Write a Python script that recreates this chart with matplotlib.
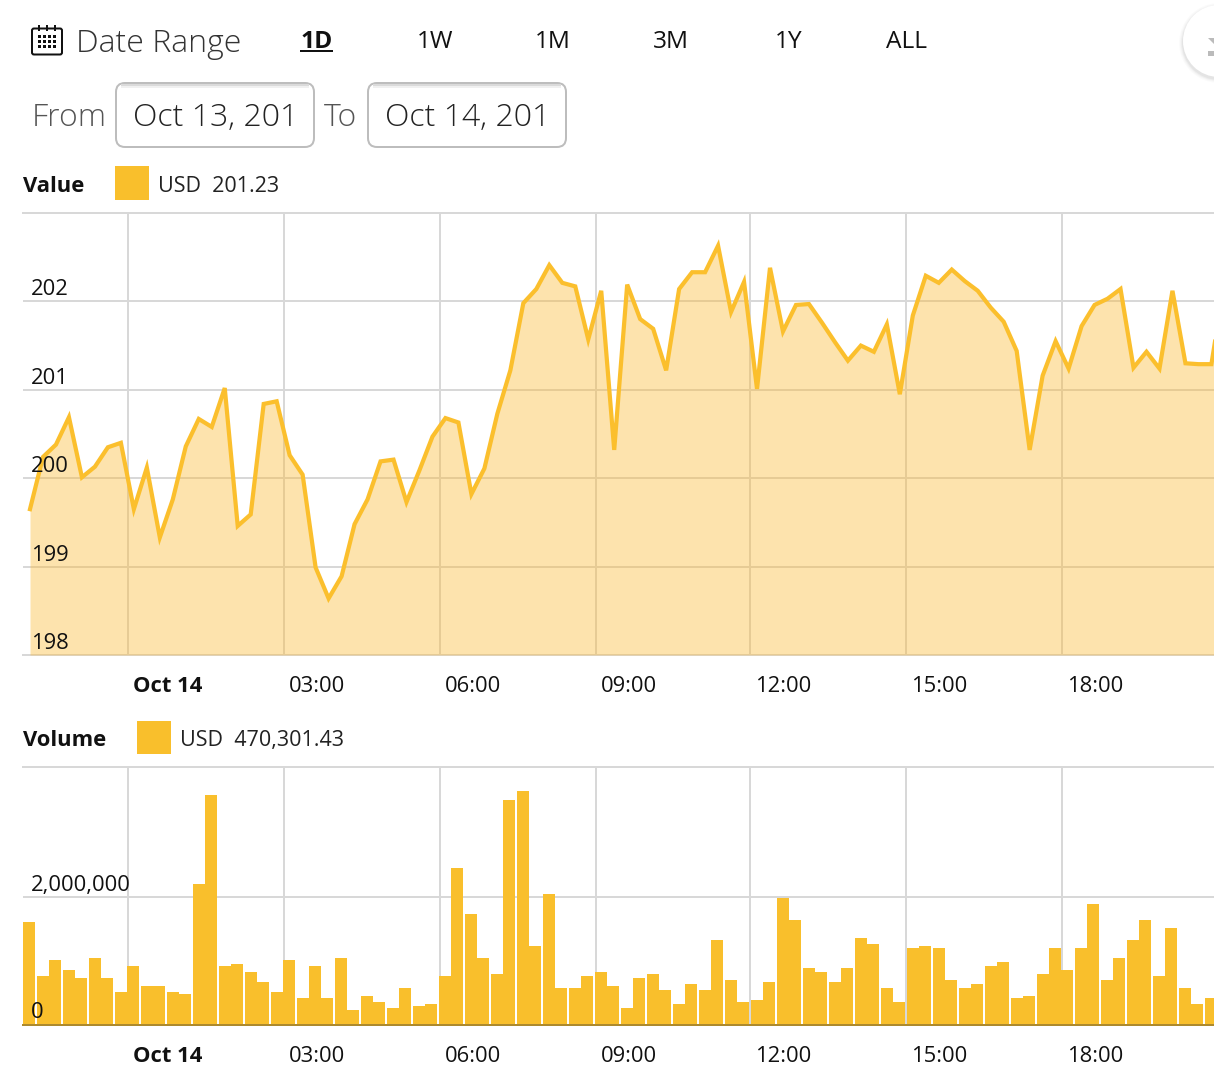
import numpy as np
import matplotlib
matplotlib.use("Agg")
import matplotlib.pyplot as plt
from matplotlib.patches import Rectangle, FancyBboxPatch, Circle, Polygon

plt.rcParams['font.family'] = ['Open Sans', 'DejaVu Sans']

W, H = 1214, 1069
PX = 0.72  # one pixel in points at dpi 100

value_usd = [199.65, 200.24, 200.38, 200.69, 200.01, 200.13, 200.35, 200.40, 199.65, 200.12,
             199.33, 199.76, 200.36, 200.67, 200.58, 201.02, 199.46, 199.59, 200.84, 200.87,
             200.26, 200.04, 198.99, 198.64, 198.89, 199.48, 199.76, 200.19, 200.21, 199.73,
             200.09, 200.47, 200.68, 200.63, 199.82, 200.11, 200.73, 201.22, 201.98, 202.14,
             202.41, 202.21, 202.17, 201.57, 202.12, 200.32, 202.19, 201.80, 201.69, 201.22,
             202.14, 202.33, 202.33, 202.63, 201.88, 202.22, 201.01, 202.38, 201.66, 201.96,
             201.97, 201.76, 201.54, 201.33, 201.50, 201.43, 201.74, 200.95, 201.84, 202.29,
             202.21, 202.36, 202.23, 202.12, 201.93, 201.77, 201.44, 200.32, 201.16, 201.55,
             201.24, 201.72, 201.96, 202.03, 202.14, 201.25, 201.43, 201.24, 202.12, 201.30,
             201.29, 201.29, 202.21]

volume_k = [1605, 764, 1013, 857, 732, 1044, 732, 514, 920, 608,
            608, 514, 483, 2197, 3600, 920, 951, 826, 670, 514,
            1013, 421, 920, 421, 1044, 234, 452, 358, 265, 577,
            296, 327, 764, 2447, 1730, 1044, 795, 3507, 3662, 1231,
            2042, 577, 577, 764, 826, 608, 265, 732, 795, 545,
            327, 639, 545, 1325, 701, 358, 390, 670, 1979, 1636,
            888, 826, 670, 888, 1356, 1262, 577, 358, 1200, 1231,
            1200, 701, 577, 639, 920, 982, 421, 452, 795, 1200,
            857, 1200, 1886, 701, 1044, 1325, 1636, 764, 1512, 577,
            327, 421]

# the page's tick spacing is not quite even, hence the odd hours
tick_hours = [0, 3.004, 6.008, 9.012, 11.978, 14.982, 17.986]
tick_labels = ['Oct 14', '03:00', '06:00', '09:00', '12:00', '15:00', '18:00']
value_ticks = [198, 199, 200, 201, 202]
volume_ticks = [0, 2000000]
volume_tick_labels = ['0', '2,000,000']
periods = ['1W', '1M', '3M', '1Y', 'ALL']
period_x = [435, 552.5, 670.5, 789, 906.5]

AMBER = '#F9BF2C'
GRID = '#D8D8D8'
ZERO_X = 128
PX_PER_HOUR = 51.93
START_HOUR = (30 - ZERO_X) / PX_PER_HOUR
STEP_HOUR = 0.25


def make_axes(top, bottom):
    ax = fig.add_axes([23 / W, (H - bottom) / H, (W - 23) / W, (bottom - top) / H])
    ax.set_xlim((23 - ZERO_X) / PX_PER_HOUR, (W - ZERO_X) / PX_PER_HOUR)
    ax.set_facecolor('none')
    ax.set_xticks(tick_hours)
    ax.tick_params(length=0, labelbottom=False, labelleft=False)
    ax.grid(True, color=GRID, lw=2 * PX)
    ax.set_axisbelow(True)
    for side in ['left', 'right']:
        ax.spines[side].set_visible(False)
    ax.spines['top'].set(color=GRID, lw=2 * PX)
    ax.spines['bottom'].set(color=GRID, lw=2 * PX)
    for h, lab in zip(tick_hours, tick_labels):
        ax.annotate(lab, xy=(h, 0), xycoords=ax.get_xaxis_transform(),
                    xytext=(5 * PX, -31 * PX), textcoords='offset points',
                    ha='left', va='center', fontsize=22 * PX, color='#111111',
                    fontweight='bold' if lab == 'Oct 14' else 'normal', annotation_clip=False)
    return ax


def tick_text(ax, y, lab, pad):
    ax.annotate(lab, xy=(0, y), xycoords=ax.get_yaxis_transform(),
                xytext=(8 * PX, pad * PX), textcoords='offset points',
                ha='left', va='baseline', fontsize=22 * PX, color='#111111', zorder=6)


fig = plt.figure(figsize=(W / 100, H / 100), dpi=100)

# value panel
ax1 = make_axes(213, 655)
ax1.set_ylim(198, 203)
ax1.set_yticks(value_ticks)
hours = START_HOUR + STEP_HOUR * np.arange(len(value_usd))
ax1.fill_between(hours, value_usd, 198, color='#FCB932', alpha=0.4, lw=0, zorder=3)
ax1.plot(hours, value_usd, color='#FBBF2D', lw=4.2 * PX, solid_joinstyle='miter', zorder=4)
for y in value_ticks:
    tick_text(ax1, y, str(y), 6)

# volume panel
ax2 = make_axes(767, 1025)
ax2.set_ylim(0, 4030000)
ax2.set_yticks(volume_ticks)
ax2.spines['bottom'].set(color='#AD8A2E', zorder=5)
bar_hours = START_HOUR + STEP_HOUR * np.arange(len(volume_k))
# bars sit on whole css pixels in the page, so gaps come and go in pairs
bar_px = ZERO_X + bar_hours * PX_PER_HOUR
bar_left = 2 * np.round((bar_px - 7.6) / 2) + 1
ax2.bar((bar_left - ZERO_X) / PX_PER_HOUR, np.array(volume_k) * 1000, width=12 / PX_PER_HOUR,
        align='edge', color=AMBER, lw=0, zorder=3)
tick_text(ax2, 0, volume_tick_labels[0], 7)
tick_text(ax2, 2000000, volume_tick_labels[1], 6)

# page furniture drawn in pixel coordinates
page = fig.add_axes([0, 0, 1, 1], zorder=10)
page.set_xlim(0, W)
page.set_ylim(H, 0)
page.axis('off')
page.patch.set_alpha(0)

# calendar icon
page.add_patch(FancyBboxPatch((32, 28.5), 30, 26, boxstyle='round,pad=0,rounding_size=2',
                              fc='white', ec='#111111', lw=2 * PX))
for x in [39, 47, 55]:
    page.plot([x, x], [25, 31], color='#111111', lw=2 * PX, solid_capstyle='butt')
for y in [35, 40, 45]:
    for x in [38, 43, 48, 53]:
        page.add_patch(Rectangle((x, y), 3.4, 3.4, fc='#111111', lw=0))

page.text(75.5, 44, 'Date Range', fontsize=32 * PX, fontweight='light', color='#333333', va='center')
page.text(316.5, 42.5, '1D', fontsize=24.5 * PX, fontweight='bold', color='#111111', ha='center', va='center')
page.plot([301, 332], [51, 51], color='#111111', lw=2 * PX)
for lab, x in zip(periods, period_x):
    page.text(x, 42.5, lab, fontsize=24.5 * PX, color='#111111', ha='center', va='center')

page.text(31.5, 118, 'From', fontsize=32 * PX, fontweight='light', color='#555555', va='center')
page.text(323.5, 118, 'To', fontsize=32 * PX, fontweight='light', color='#555555', va='center')
for x0, lab in [(116, 'Oct 13, 201'), (368, 'Oct 14, 201')]:
    page.add_patch(FancyBboxPatch((x0, 83), 198, 64, boxstyle='round,pad=0,rounding_size=9',
                                  fc='white', ec='#BDBDBD', lw=2 * PX))
    page.plot([x0 + 6, x0 + 192], [85, 85], color='#DADADA', lw=2 * PX)
    page.plot([x0 + 6, x0 + 192], [87, 87], color='#F0F0F0', lw=2 * PX)
    page.text(x0 + 17, 118, lab, fontsize=32 * PX, fontweight='light', color='#222222', va='center')

# legends
page.text(23, 187, 'Value', fontsize=22 * PX, fontweight='bold', color='#111111', va='center')
page.add_patch(Rectangle((115, 166), 34, 34, fc=AMBER, lw=0))
page.text(157.5, 187, 'USD  201.23', fontsize=21.5 * PX, color='#222222', va='center')
page.text(23, 741, 'Volume', fontsize=22 * PX, fontweight='bold', color='#111111', va='center')
page.add_patch(Rectangle((137, 721), 34, 33, fc=AMBER, lw=0))
page.text(179.5, 740.5, 'USD  470,301.43', fontsize=21.5 * PX, color='#222222', va='center')

# round button cut off at the right edge
for r, a in [(40, 0.015), (39, 0.02), (38, 0.03), (37, 0.04)]:
    page.add_patch(Circle((1219, 43), r, fc='black', alpha=a, lw=0))
page.add_patch(Circle((1219, 41), 36, fc='white', lw=0))
page.add_patch(Polygon([(1208, 38), (1214, 38), (1214, 44)], fc='#BBBBBB', lw=0))
page.add_patch(Rectangle((1208, 51), 6, 5, fc='#BBBBBB', lw=0))

fig.savefig('out.png', dpi=100)
